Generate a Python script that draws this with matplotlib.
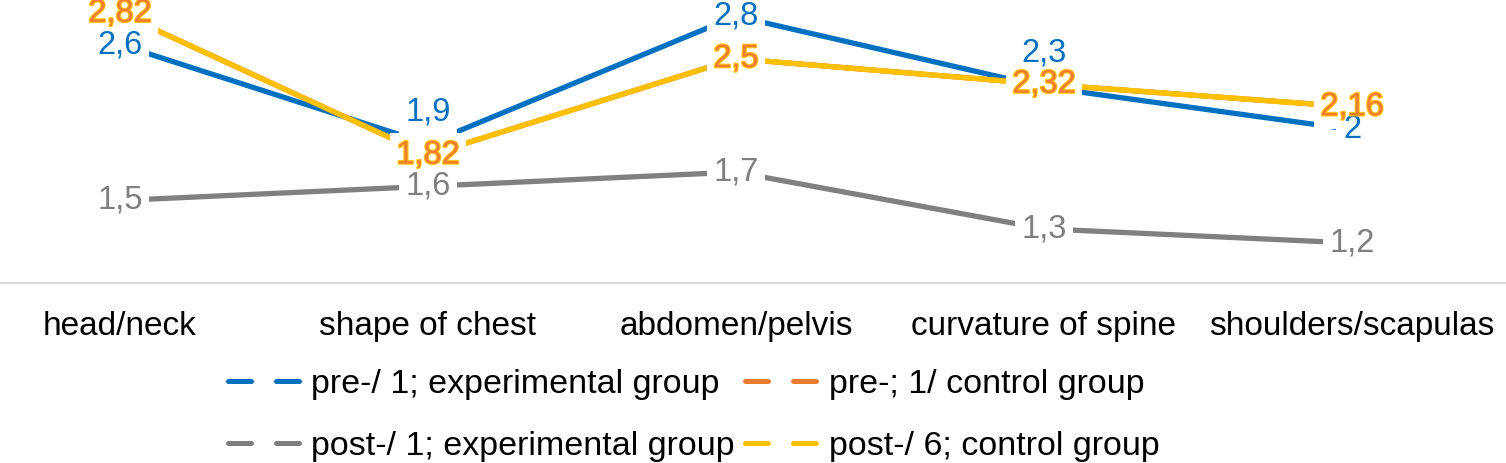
import matplotlib
matplotlib.use('Agg')
import matplotlib.pyplot as plt
import matplotlib.patheffects as pe
from matplotlib.lines import Line2D

plt.rcParams['font.family'] = ['Liberation Sans', 'DejaVu Sans']

categorias = ['head/neck', 'shape of chest', 'abdomen/pelvis', 'curvature of spine', 'shoulders/scapulas']
pre_experimental = [2.6, 1.9, 2.8, 2.3, 2.0]
pre_control = [2.82, 1.82, 2.5, 2.32, 2.16]
post_experimental = [1.5, 1.6, 1.7, 1.3, 1.2]
post_control = [2.82, 1.82, 2.5, 2.32, 2.16]
nombres = ['pre-/ 1; experimental group', 'pre-; 1/ control group',
           'post-/ 1; experimental group', 'post-/ 6; control group']

AZUL = '#0070C0'
NARANJA = '#ED7D31'
GRIS = '#7F7F7F'
AMARILLO = '#FFC000'

fig = plt.figure(figsize=(15.06, 4.63), dpi=100)
ax = fig.add_axes([0, 0.3888, 1, 0.6112])

x = list(range(len(categorias)))

# orden de series como en excel: azul, naranja, gris, amarillo
ax.plot(x, pre_experimental, color=AZUL, lw=3.8, zorder=2, solid_capstyle='butt')
ax.plot(x, pre_control, color=NARANJA, lw=3.8, zorder=2.1, solid_capstyle='butt')
ax.plot(x, post_experimental, color='#808080', lw=3.8, zorder=2.2, solid_capstyle='butt')
ax.plot(x, post_control, color=AMARILLO, lw=3.8, zorder=2.3, solid_capstyle='butt')


def poner_etiquetas(valores, color, z, desplaz=None, halo=None, caja=True):
    desplaz = desplaz or {}
    for i, v in enumerate(valores):
        texto = f'{v:g}'.replace('.', ',')
        t = ax.annotate(texto, (x[i], v), xytext=(0, desplaz.get(i, 0)),
                        textcoords='offset points', ha='center', va='center',
                        fontsize=23.5, color=color, zorder=z, annotation_clip=False)
        if caja:
            t.set_bbox(dict(boxstyle='square,pad=0.2', fc='white', ec='none'))
        if halo:
            t.set_path_effects([pe.Stroke(linewidth=1.6, foreground=halo), pe.Normal()])


# las de control (naranja) van encima de todo, sin fondo
poner_etiquetas(post_control, AMARILLO, 4)
poner_etiquetas(post_experimental, GRIS, 5)
poner_etiquetas(pre_experimental, AZUL, 6, desplaz={1: 23, 3: 24.5})
poner_etiquetas(pre_control, NARANJA, 8, halo=AMARILLO, caja=False)

ax.set_xlim(-0.3896, 4.5)
ax.set_ylim(0.918, 2.914)
ax.set_xticks(x)
ax.set_xticklabels(categorias, fontsize=24)
ax.set_yticks([])
ax.tick_params(axis='x', length=0, pad=20)
for lado in ['top', 'left', 'right']:
    ax.spines[lado].set_visible(False)
ax.spines['bottom'].set_color('#D9D9D9')
ax.spines['bottom'].set_linewidth(1.6)

# leyenda con trazos discontinuos
def muestra(color):
    return Line2D([], [], color=color, lw=3.6, linestyle=(0, (4.6, 5.0)), dash_capstyle='round')

manijas = [muestra(AZUL), muestra(GRIS), muestra(NARANJA), muestra(AMARILLO)]
textos = [nombres[0], nombres[2], nombres[1], nombres[3]]
fig.legend(manijas, textos, ncol=2, frameon=False, fontsize=24.5,
           loc='upper left', bbox_to_anchor=(228 / 1506, 1 - 369 / 463),
           borderpad=0, borderaxespad=0, handlelength=2.25, handletextpad=0.2,
           columnspacing=0.3, labelspacing=0.9)

fig.savefig('out.png', dpi=100)
